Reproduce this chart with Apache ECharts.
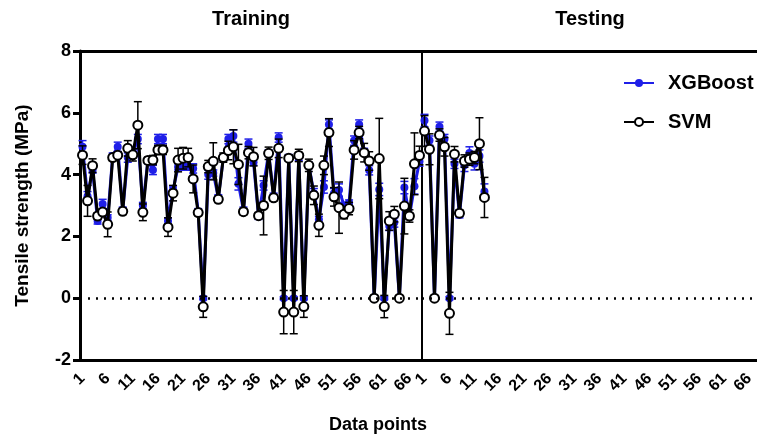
<!DOCTYPE html>
<html>
<head>
<meta charset="utf-8">
<script src="https://cdn.jsdelivr.net/npm/echarts@6/dist/echarts.min.js"></script>
<style>
  html, body { margin: 0; padding: 0; background: #fff; }
  #chart { width: 757px; height: 442px; }
</style>
</head>
<body>
<div id="chart"></div>
<script>
// training set: 68 points, testing set: 13 points
const trainSvm = [4.63, 3.15, 4.29, 2.66, 2.79, 2.39, 4.55, 4.63, 2.81, 4.85,
  4.64, 5.6, 2.78, 4.46, 4.47, 4.8, 4.8, 2.3, 3.4, 4.47,
  4.53, 4.55, 3.86, 2.77, -0.28, 4.26, 4.43, 3.2, 4.55, 4.78,
  4.9, 4.33, 2.8, 4.71, 4.58, 2.67, 3.0, 4.69, 3.25, 4.85,
  -0.45, 4.53, -0.45, 4.62, -0.27, 4.3, 3.33, 2.36, 4.3, 5.36,
  3.28, 2.93, 2.72, 2.9, 4.8, 5.36, 4.71, 4.44, 0, 4.52,
  -0.27, 2.5, 2.72, 0, 2.98, 2.66, 4.35, 4.62];
const trainSvmErr = [0.3, 0.5, 0.22, 0.1, 0.1, 0.4, 0.1, 0.1, 0.1, 0.25,
  0.2, 0.76, 0.27, 0.1, 0.15, 0.15, 0.15, 0.3, 0.25, 0.38,
  0.35, 0.3, 0.45, 0.1, 0.34, 0.2, 0.6, 0.1, 0.15, 0.3,
  0.55, 0.65, 0.1, 0.2, 0.3, 0.1, 0.95, 0.2, 0.1, 0.3,
  0.7, 0.1, 0.7, 0.2, 0.35, 0.2, 0.3, 0.36, 0.3, 0.45,
  0.3, 0.83, 0.15, 0.2, 0.3, 0.2, 0.3, 0.3, 0.05, 1.3,
  0.36, 0.3, 0.25, 0.05, 0.9, 0.2, 1.0, 0.3];
const trainXgb = [4.9, 3.3, 4.15, 2.5, 3.05, 2.6, 4.6, 4.9, 2.85, 4.55,
  4.7, 5.15, 3.0, 4.45, 4.15, 5.15, 5.15, 2.5, 3.5, 4.25,
  4.25, 4.25, 4.2, 2.8, 0, 4.0, 4.05, 3.25, 4.55, 5.15,
  5.25, 3.7, 2.85, 5.0, 4.4, 2.65, 3.65, 4.7, 3.3, 5.2,
  0, 4.55, 0, 4.55, 0, 4.3, 3.4, 2.55, 3.6, 5.62,
  3.4, 3.5, 3.0, 3.08, 5.1, 5.62, 4.75, 4.14, 0, 3.52,
  0, 2.34, 2.45, 0, 3.58, 2.65, 3.62, 4.42];
const trainXgbErr = [0.2, 0.15, 0.1, 0.1, 0.15, 0.1, 0.1, 0.15, 0.1, 0.15,
  0.1, 0.15, 0.1, 0.1, 0.15, 0.15, 0.15, 0.1, 0.1, 0.1,
  0.1, 0.1, 0.15, 0.1, 0.05, 0.15, 0.1, 0.1, 0.1, 0.15,
  0.2, 0.2, 0.1, 0.15, 0.1, 0.1, 0.15, 0.1, 0.1, 0.15,
  0.05, 0.1, 0.05, 0.1, 0.05, 0.1, 0.15, 0.1, 0.2, 0.15,
  0.15, 0.2, 0.1, 0.1, 0.15, 0.15, 0.1, 0.15, 0.05, 0.2,
  0.05, 0.15, 0.15, 0.05, 0.2, 0.1, 0.25, 0.15];
const testSvm = [5.41, 4.82, 0, 5.28, 4.9, -0.49, 4.66, 2.75, 4.44, 4.5, 4.55, 5.0, 3.26];
const testSvmErr = [0.5, 0.5, 0.05, 0.2, 0.3, 0.68, 0.25, 0.1, 0.2, 0.2, 0.2, 0.84, 0.65];
const testXgb = [5.75, 5.1, 0, 5.55, 5.15, 0, 4.35, 2.7, 4.3, 4.7, 4.35, 4.6, 3.45];
const testXgbErr = [0.2, 0.15, 0.05, 0.15, 0.15, 0.05, 0.15, 0.1, 0.2, 0.2, 0.2, 0.2, 0.25];

// x categories (training axis ends at 68, testing axis runs to 67)
const trainCats = Array.from({ length: 68 }, (_, i) => String(i + 1));
const testCats = Array.from({ length: 67 }, (_, i) => String(i + 1));
const yTicks = [-2, 0, 2, 4, 6, 8];

const FONT = "Liberation Sans";
const BLUE = "#1f1fe8";

const chart = echarts.init(document.getElementById("chart"));

function errData(vals, errs) {
  return vals.map((v, i) => [i, v - errs[i], v + errs[i]]);
}

// vertical error bar with caps
function errBars(name, gi, vals, errs, color) {
  return {
    name: name,
    type: "custom",
    xAxisIndex: gi * 2,
    yAxisIndex: gi,
    silent: true,
    z: 3,
    data: errData(vals, errs),
    renderItem: function (params, api) {
      const lo = api.coord([api.value(0), api.value(1)]);
      const hi = api.coord([api.value(0), api.value(2)]);
      const w = 4;
      const style = { stroke: color, lineWidth: 1.5 };
      return {
        type: "group",
        children: [
          { type: "line", shape: { x1: lo[0], y1: lo[1], x2: hi[0], y2: hi[1] }, style: style },
          { type: "line", shape: { x1: lo[0] - w, y1: lo[1], x2: lo[0] + w, y2: lo[1] }, style: style },
          { type: "line", shape: { x1: hi[0] - w, y1: hi[1], x2: hi[0] + w, y2: hi[1] }, style: style },
        ],
      };
    },
  };
}

const zeroLine = {
  silent: true,
  symbol: "none",
  label: { show: false },
  lineStyle: { color: "#000", type: [2, 6], width: 2.5 },
  data: [{ yAxis: 0 }],
};

function xgbLine(gi, vals) {
  return {
    name: "XGBoost",
    type: "line",
    xAxisIndex: gi * 2,
    yAxisIndex: gi,
    data: vals,
    symbol: "circle",
    symbolSize: 8,
    showSymbol: true,
    showAllSymbol: true,
    color: BLUE,
    lineStyle: { width: 3, color: BLUE },
    itemStyle: { color: BLUE },
    z: 2,
    markLine: zeroLine,
  };
}

function svmLine(gi, vals) {
  return {
    name: "SVM",
    type: "line",
    xAxisIndex: gi * 2,
    yAxisIndex: gi,
    data: vals,
    symbol: "emptyCircle",
    symbolSize: 9,
    showSymbol: true,
    showAllSymbol: true,
    color: "#000",
    lineStyle: { width: 3, color: "#000" },
    itemStyle: { color: "#000", borderWidth: 2.5 },
    z: 4,
  };
}

function bottomAxis(gi, cats) {
  return {
    type: "category",
    gridIndex: gi,
    data: cats,
    boundaryGap: true,
    position: "bottom",
    axisLine: { onZero: false, lineStyle: { color: "#000", width: 3 } },
    axisTick: { interval: 4, alignWithLabel: true, length: 8, lineStyle: { width: 3, color: "#000" } },
    axisLabel: {
      interval: 4,
      rotate: 45,
      margin: 16,
      color: "#000",
      fontFamily: FONT,
      fontWeight: "bold",
      fontSize: 16,
    },
    splitLine: { show: false },
  };
}

function topAxis(gi, cats) {
  return {
    type: "category",
    gridIndex: gi,
    data: cats,
    position: "top",
    axisLine: { onZero: false, lineStyle: { color: "#000", width: 3 } },
    axisTick: { show: false },
    axisLabel: { show: false },
    splitLine: { show: false },
  };
}

const titleStyle = { fontFamily: FONT, fontWeight: "bold", fontSize: 20, color: "#000" };

const option = {
  animation: false,
  backgroundColor: "#fff",
  title: [
    { text: "Training", left: 246, top: 4, textAlign: "center", textStyle: titleStyle },
    { text: "Testing", left: 585, top: 4, textAlign: "center", textStyle: titleStyle },
    { text: "Data points", left: 373, top: 411,  textAlign: "center",
      textStyle: { fontFamily: FONT, fontWeight: "bold", fontSize: 18, color: "#000" } },
  ],
  legend: {
    orient: "vertical",
    left: 618,
    top: 68,
    itemGap: 19,
    itemWidth: 30,
    itemHeight: 10,
    textStyle: { fontFamily: FONT, fontWeight: "bold", fontSize: 20, color: "#000", padding: [0, 0, 0, 9] },
    data: ["XGBoost", "SVM"],
  },
  grid: [
    { left: 80, right: 335, top: 51, bottom: 82 },
    { left: 422, right: 0, top: 51, bottom: 82 },
  ],
  xAxis: [
    bottomAxis(0, trainCats),
    topAxis(0, trainCats),
    bottomAxis(1, testCats),
    topAxis(1, testCats),
  ],
  yAxis: [
    {
      type: "value",
      gridIndex: 0,
      min: yTicks[0],
      max: yTicks[yTicks.length - 1],
      interval: 2,
      name: "Tensile strength (MPa)",
      nameLocation: "middle",
      nameGap: 48,
      nameTextStyle: { fontFamily: FONT, fontWeight: "bold", fontSize: 19, color: "#000" },
      axisLine: { show: true, lineStyle: { color: "#000", width: 3 } },
      axisTick: { show: true, length: 7, lineStyle: { color: "#000", width: 3 } },
      axisLabel: { color: "#000", fontFamily: FONT, fontWeight: "bold", fontSize: 18, margin: 9 },
      splitLine: { show: false },
    },
    {
      type: "value",
      gridIndex: 1,
      min: yTicks[0],
      max: yTicks[yTicks.length - 1],
      interval: 2,
      axisLine: { show: true, lineStyle: { color: "#000", width: 2 } },
      axisTick: { show: false },
      axisLabel: { show: false },
      splitLine: { show: false },
    },
  ],
  series: [
    errBars("xgbErrTrain", 0, trainXgb, trainXgbErr, BLUE),
    xgbLine(0, trainXgb),
    errBars("svmErrTrain", 0, trainSvm, trainSvmErr, "#000"),
    svmLine(0, trainSvm),
    errBars("xgbErrTest", 1, testXgb, testXgbErr, BLUE),
    xgbLine(1, testXgb),
    errBars("svmErrTest", 1, testSvm, testSvmErr, "#000"),
    svmLine(1, testSvm),
  ],
};

chart.setOption(option);
</script>
</body>
</html>
